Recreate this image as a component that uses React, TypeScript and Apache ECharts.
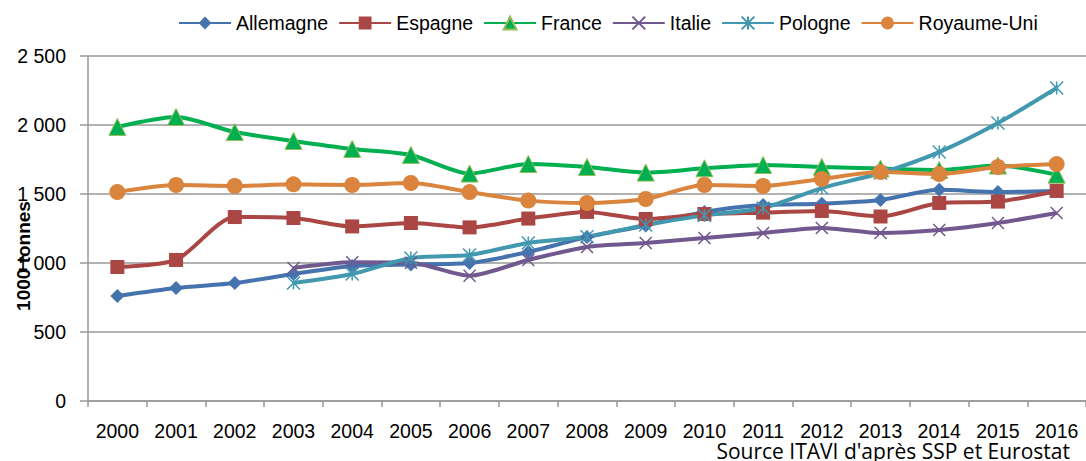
import React, { useEffect, useRef } from "react";
import * as echarts from "echarts";

const years = ["2000","2001","2002","2003","2004","2005","2006","2007","2008","2009","2010","2011","2012","2013","2014","2015","2016"];

const allemagne = [761, 819, 855, 920, 978, 990, 1000, 1080, 1188, 1272, 1370, 1420, 1430, 1457, 1530, 1514, 1522];
const espagne = [971, 1022, 1333, 1326, 1265, 1290, 1258, 1322, 1370, 1319, 1355, 1365, 1377, 1337, 1435, 1445, 1522];
const france = [1986, 2058, 1949, 1884, 1826, 1783, 1648, 1717, 1696, 1655, 1686, 1710, 1696, 1684, 1674, 1706, 1640];
const italie = [null, null, null, 964, 1005, 1002, 908, 1022, 1116, 1145, 1181, 1217, 1254, 1217, 1239, 1290, 1362];
const pologne = [null, null, null, 855, 920, 1036, 1058, 1145, 1190, 1275, 1345, 1399, 1543, 1652, 1804, 2014, 2268];
const royaumeUni = [1514, 1565, 1558, 1570, 1565, 1580, 1514, 1452, 1435, 1464, 1565, 1558, 1609, 1659, 1645, 1696, 1717];

const yTicks = [0, 500, 1000, 1500, 2000, 2500];

const FONT = "Liberation Sans";

export default function App() {
  const ref = useRef<HTMLDivElement>(null);
  useEffect(() => {
    if (!ref.current) return;
    const chart = echarts.init(ref.current, undefined, { renderer: "svg" });
    const lineW = 4;
    const mk = (name: string, data: any[], color: string, symbol: string, size: number) => ({
      name,
      type: "line",
      data,
      smooth: 0.25,
      color,
      symbol,
      symbolSize: size,
      showSymbol: true,
      connectNulls: false,
      lineStyle: { color, width: lineW },
      itemStyle: { color },
      emphasis: { disabled: true },
    });
    const crossPath = "path://M0 0L10 10M10 0L0 10";
    const starPath = "path://M5 0L5 10M0 0L10 10M10 0L0 10";
    chart.setOption({
      animation: false,
      textStyle: { fontFamily: FONT },
      legend: {
        left: 173,
        top: 8,
        itemWidth: 52,
        itemHeight: 16,
        itemGap: 10,
        textStyle: { fontFamily: FONT, fontSize: 19.5, color: "#000" },
        data: ["Allemagne", "Espagne", "France", "Italie", "Pologne", "Royaume-Uni"],
      },
      grid: { left: 88, top: 56, width: 1006, height: 345, containLabel: false },
      xAxis: {
        type: "category",
        data: years,
        boundaryGap: true,
        axisLine: { show: true, lineStyle: { color: "#999", width: 1.5 } },
        axisTick: { show: true, length: 6, lineStyle: { color: "#999", width: 1.5 } },
        axisLabel: { color: "#000", fontSize: 19.5, fontFamily: FONT, margin: 20, interval: 0 },
        splitLine: { show: false },
      },
      yAxis: {
        type: "value",
        min: 0,
        max: 2500,
        interval: 500,
        axisLine: { show: true, lineStyle: { color: "#999", width: 1.5 } },
        axisTick: { show: true, inside: false, length: 8, lineStyle: { color: "#999", width: 1.5 } },
        axisLabel: {
          color: "#000",
          fontSize: 19.5,
          fontFamily: FONT,
          margin: 22,
          formatter: (v: number) => {
            const t = yTicks.find((x) => x === v);
            if (t === undefined) return "";
            return t >= 1000 ? Math.floor(t / 1000) + " " + String(t % 1000).padStart(3, "0") : String(t);
          },
        },
        splitLine: { show: true, lineStyle: { color: "#999", width: 1.5 } },
      },
      graphic: [
        {
          type: "text",
          x: 23,
          y: 256,
          rotation: Math.PI / 2,
          z: 100,
          style: {
            text: "1000 tonnes",
            font: `bold 19px "${FONT}"`,
            fill: "#000",
            align: "center",
            verticalAlign: "middle",
          },
        },
        {
          type: "text",
          x: 1070,
          y: 451,
          z: 100,
          style: {
            text: "Source ITAVI d'après SSP et Eurostat",
            font: `21px "Open Sans"`,
            fill: "#000",
            align: "right",
            verticalAlign: "middle",
          },
        },
      ],
      series: [
        mk("Allemagne", allemagne, "#4573AE", "diamond", 14),
        mk("Espagne", espagne, "#AA4643", "rect", 14),
        {
          ...mk("France", france, "#00B050", "triangle", 17),
          itemStyle: { color: "#00B050", borderColor: "#9BBB59", borderWidth: 1 },
        },
        {
          ...mk("Italie", italie, "#71588F", crossPath, 12),
          itemStyle: { color: "rgba(0,0,0,0)", borderColor: "#71588F", borderWidth: 1.5 },
        },
        {
          ...mk("Pologne", pologne, "#4198AF", starPath, 13),
          itemStyle: { color: "rgba(0,0,0,0)", borderColor: "#4198AF", borderWidth: 1.5 },
        },
        mk("Royaume-Uni", royaumeUni, "#DB843D", "circle", 16),
      ],
    });
    return () => chart.dispose();
  }, []);
  return (
    <div
      ref={ref}
      style={{ position: "fixed", left: 0, top: 0, width: 1086, height: 461, overflow: "hidden", background: "#fff" }}
    />
  );
}
